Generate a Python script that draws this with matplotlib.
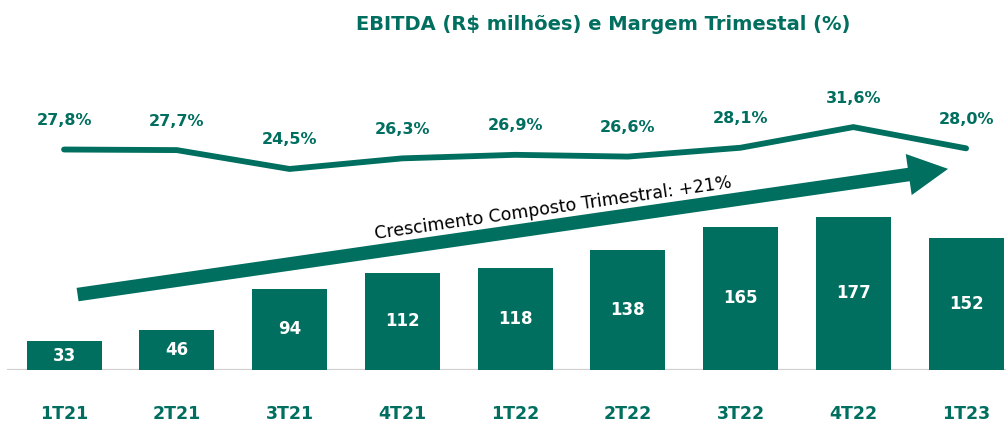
import matplotlib
matplotlib.use("Agg")
import matplotlib.pyplot as plt
import numpy as np

categories = ["1T21", "2T21", "3T21", "4T21", "1T22", "2T22", "3T22", "4T22", "1T23"]
ebitda = [33, 46, 94, 112, 118, 138, 165, 177, 152]
margem = [27.8, 27.7, 24.5, 26.3, 26.9, 26.6, 28.1, 31.6, 28.0]
margem_labels = ["27,8%", "27,7%", "24,5%", "26,3%", "26,9%", "26,6%", "28,1%", "31,6%", "28,0%"]
title = "EBITDA (R$ milhões) e Margem Trimestal (%)"
arrow_text = "Crescimento Composto Trimestral: +21%"

GREEN = "#006f5f"
BOLD = "DejaVu Sans"
W, H = 1006, 423
fig = plt.figure(figsize=(W / 100, H / 100), dpi=100)
base_px = 53
ax = fig.add_axes([0, base_px / H, 1, (H - base_px) / H])
x = np.arange(len(categories))
ax.set_xlim(-0.568, 8.354)
ax.set_ylim(0, (H - base_px) / 0.867)
ax.bar(x, ebitda, width=0.665, color=GREEN, zorder=2)
for xi, v in zip(x, ebitda):
    ax.text(xi, v / 2, str(v), ha="center", va="center", color="white",
            fontsize=12, fontweight="bold", family=BOLD, zorder=3)
ax.axhline(0, xmin=8 / W, xmax=1, color="#cfcfcf", lw=1.6, zorder=1)
ax.axis("off")

# category labels below axis
for xi, c in zip(x, categories):
    ax.annotate(c, (xi, 0), xytext=(0, -44), textcoords="offset pixels",
                ha="center", va="center", color=GREEN, fontsize=12.5,
                fontweight="bold", family=BOLD, annotation_clip=False)

# margin line
ax2 = ax.twinx()
ax2.set_ylim(-9.57, 53.14)
ax2.plot(x, margem, color=GREEN, lw=4.2, solid_capstyle="round",
         solid_joinstyle="miter", zorder=4)
for xi, m, lab in zip(x, margem, margem_labels):
    ax2.annotate(lab, (xi, m), xytext=(0, 29), textcoords="offset pixels",
                 ha="center", va="center", color=GREEN, fontsize=11.5,
                 fontweight="bold", family=BOLD)
ax2.axis("off")

# growth arrow
ax.annotate("", xy=(7.84, 232), xytext=(0.12, 87),
            arrowprops=dict(arrowstyle="simple,head_length=2.2,head_width=2.3,tail_width=0.75",
                            color=GREEN, lw=0, mutation_scale=13, shrinkA=0, shrinkB=0),
            zorder=5)
p0 = ax.transData.transform((0.12, 87))
p1 = ax.transData.transform((7.84, 232))
ang = np.degrees(np.arctan2(p1[1] - p0[1], p1[0] - p0[0]))
ax.text(4.34, 187, arrow_text, rotation=ang, rotation_mode="anchor",
        ha="center", va="center", fontsize=12.5, color="black",
        family="DejaVu Sans", zorder=6)

fig.text(603 / W, 1 - 24 / H, title, ha="center", va="center", color=GREEN,
         fontsize=14, fontweight="bold", family=BOLD)

fig.savefig("out.png", dpi=100, facecolor="white")
